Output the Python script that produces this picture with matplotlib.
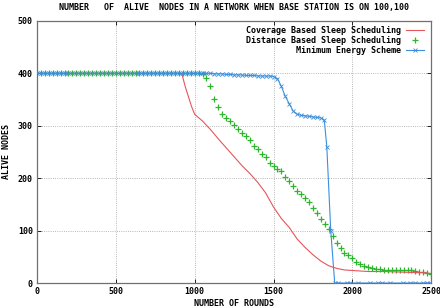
import numpy as np
import matplotlib
matplotlib.use('Agg')
import matplotlib.pyplot as plt

# rounds / alive nodes
cov_rounds = [0, 100, 200, 300, 400, 500, 600, 700, 800, 900, 920, 940, 960, 980, 1000,
              1050, 1100, 1150, 1200, 1250, 1300, 1350, 1400, 1450, 1500, 1550, 1600,
              1650, 1700, 1750, 1800, 1850, 1880, 1900, 1950, 2000, 2100, 2200, 2300,
              2400, 2450, 2500]
cov_alive = [400, 400, 400, 400, 400, 400, 400, 400, 400, 400, 398, 375, 356, 337, 322,
             309, 293, 275, 258, 241, 224, 209, 192, 172, 145, 123, 106,
             84, 68, 54, 42, 33, 30, 28, 25, 24, 22, 22, 21,
             20, 20, 18]

dist_rounds = np.arange(0, 2501, 25)
dist_alive = [400, 400, 400, 400, 400, 400, 400, 400, 400, 400,
              400, 400, 400, 400, 400, 400, 400, 400, 400, 400,
              400, 400, 400, 400, 400, 400, 400, 400, 400, 400,
              400, 400, 400, 400, 400, 400, 400, 400, 400, 400,
              400, 400, 399, 392, 375, 352, 336, 322, 315, 310,
              302, 294, 286, 280, 272, 262, 255, 247, 240, 229,
              223, 218, 213, 203, 194, 185, 176, 170, 163, 154,
              144, 133, 122, 113, 104, 90, 76, 67, 58, 53,
              47, 41, 37, 33, 30, 28, 27, 26, 25, 25,
              24, 24, 24, 24, 24, 24, 23, 22, 21, 20,
              18]

mes_rounds = [0, 25, 50, 75, 100, 125, 150, 175, 200, 225, 250, 275, 300, 325, 350, 375,
              400, 425, 450, 475, 500, 525, 550, 575, 600, 625, 650, 675, 700, 725, 750,
              775, 800, 825, 850, 875, 900, 925, 950, 975, 1000, 1025, 1050, 1075, 1100,
              1125, 1150, 1175, 1200, 1225, 1250, 1275, 1300, 1325, 1350, 1375, 1400,
              1425, 1450, 1475, 1500, 1525, 1550, 1575, 1600, 1625, 1650, 1675, 1700,
              1725, 1750, 1775, 1800, 1822, 1838, 1863, 1888, 1911, 1966, 1986, 2037,
              2113, 2164, 2189, 2240, 2323, 2367, 2399, 2450, 2475, 2494]
mes_alive = [400, 400, 400, 400, 400, 400, 400, 400, 400, 400, 400, 400, 400, 400, 400, 400,
             400, 400, 400, 400, 400, 400, 400, 400, 400, 400, 400, 400, 400, 400, 400,
             400, 400, 400, 400, 400, 400, 400, 400, 400, 400, 400, 400, 400, 400,
             399, 399, 399, 398, 398, 397, 397, 397, 396, 396, 396, 395,
             395, 395, 395, 394, 390, 375, 356, 342, 328, 322, 320, 319,
             318, 317, 316, 315, 311, 260, 100, 0, 0, 0, 0, 0,
             0, 0, 0, 0, 0, 0, 0, 0, 0, 0]

x_ticks = [0, 500, 1000, 1500, 2000, 2500]
y_ticks = [0, 100, 200, 300, 400, 500]

font = {'family': 'DejaVu Sans Mono', 'weight': 'bold', 'size': 6}

fig = plt.figure(figsize=(4.4, 3.08), dpi=100)
ax = fig.add_axes([0.084, 0.081, 0.896, 0.851])

ax.plot(cov_rounds, cov_alive, color='#e4575c', lw=0.8, zorder=3,
        label='Coverage Based Sleep Scheduling')
ax.plot(dist_rounds, dist_alive, ls='none', marker='+', ms=4, mew=0.9, color='#2db52d',
        zorder=2, label='Distance Based Sleep Scheduling')
ax.plot(mes_rounds, mes_alive, color='#3b8fde', lw=0.8, marker='x', ms=3, mew=0.6,
        zorder=4, label='Minimum Energy Scheme')

ax.set_xlim(0, 2500)
ax.set_ylim(0, 500)
ax.set_xticks(x_ticks)
ax.set_yticks(y_ticks)
ax.set_xticklabels([str(t) for t in x_ticks], fontdict=font)
ax.set_yticklabels([str(t) for t in y_ticks], fontdict=font)
ax.tick_params(direction='in', top=True, right=True, length=3, width=0.6, pad=3)
ax.grid(True, ls=':', color='#a0a0a0', lw=0.6)
for s in ax.spines.values():
    s.set_color('#707070')
    s.set_linewidth(0.9)

ax.set_title('NUMBER   OF  ALIVE  NODES IN A NETWORK WHEN BASE STATION IS ON 100,100',
             fontdict=font, pad=8)
ax.set_xlabel('NUMBER OF ROUNDS', fontdict=font, labelpad=2)
ax.set_ylabel('ALIVE NODES', fontdict=font, labelpad=5)

leg = ax.legend(loc='upper right', frameon=False, markerfirst=False, prop=font,
                handlelength=2.2, handletextpad=0.6, labelspacing=0.1,
                borderaxespad=0.2, bbox_to_anchor=(0.995, 1.0))
leg._legend_box.align = 'right'

fig.savefig('out.png', dpi=100)
